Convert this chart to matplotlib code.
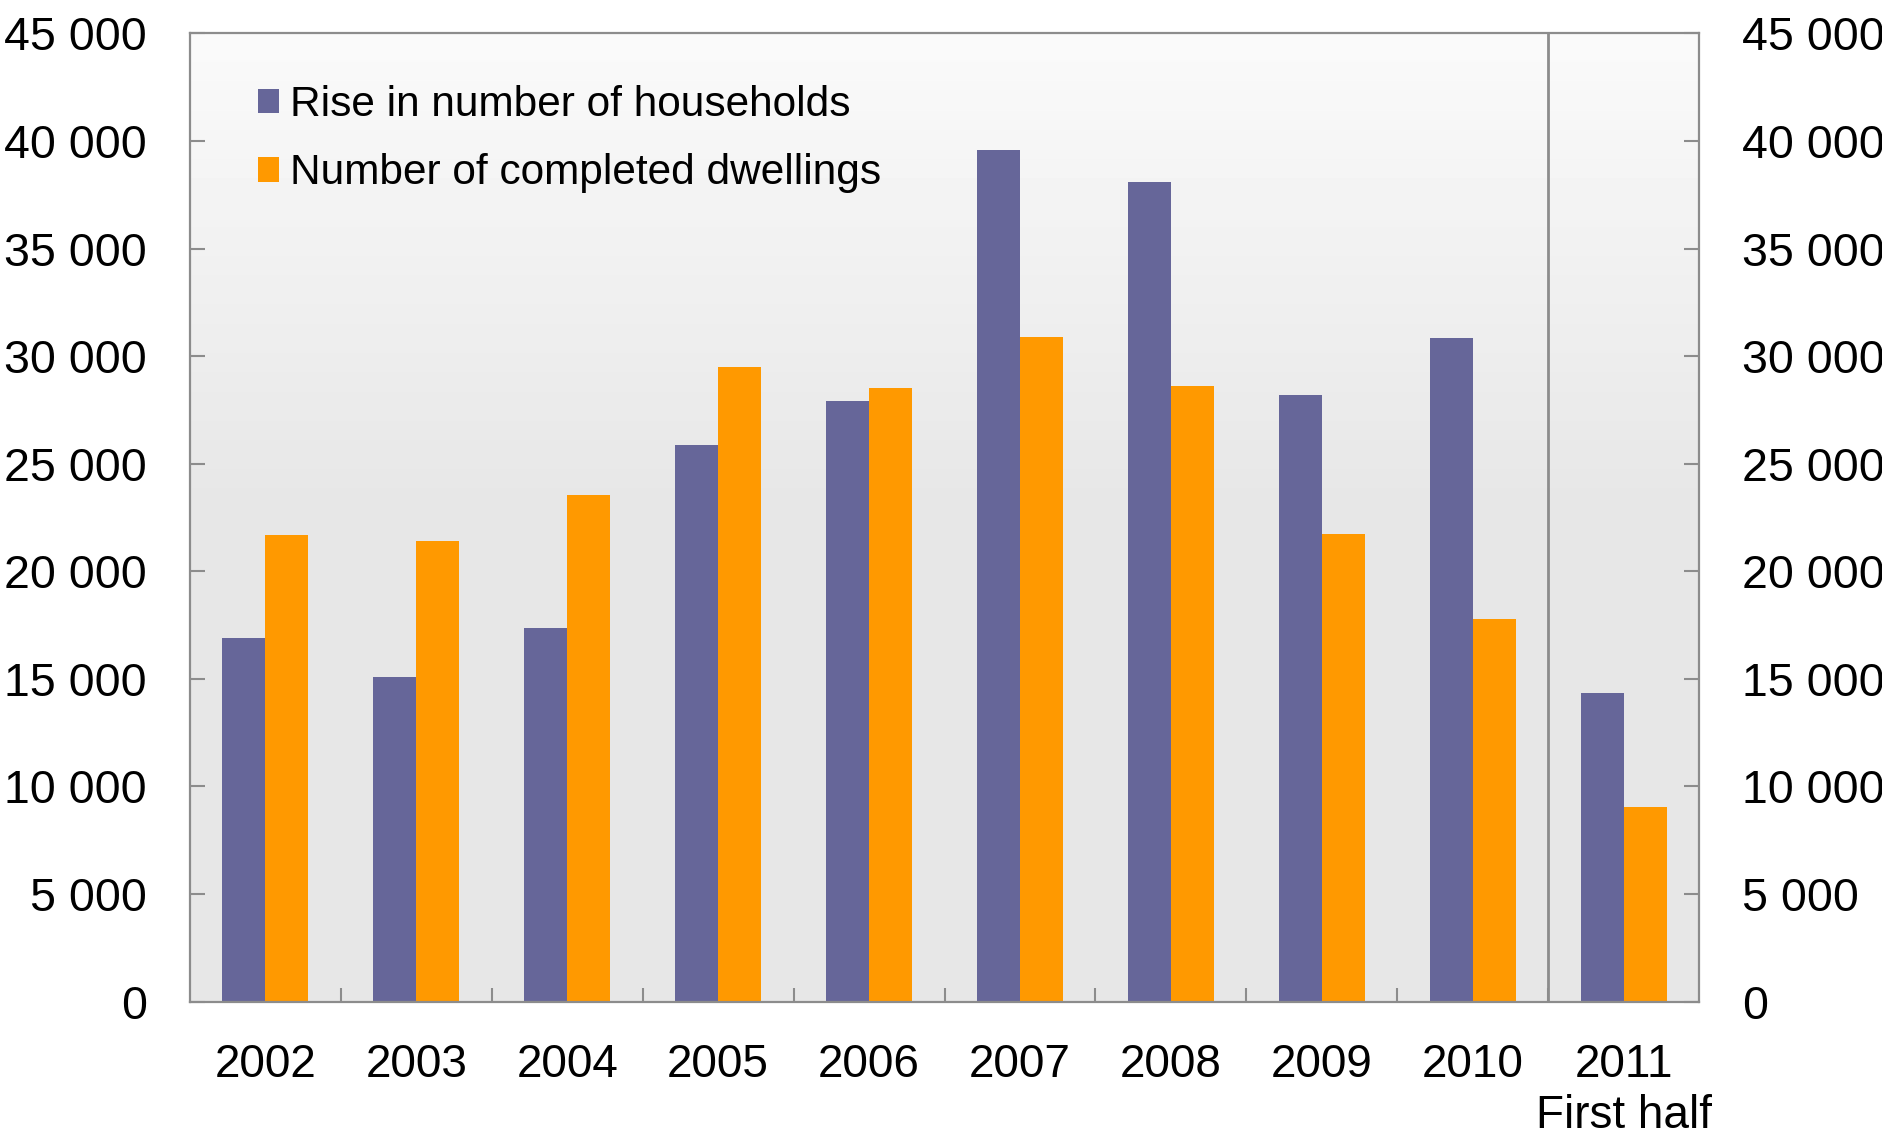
import numpy as np
import matplotlib
matplotlib.use("Agg")
import matplotlib.pyplot as plt
from matplotlib.ticker import FuncFormatter, FixedLocator

plt.rcParams['font.family'] = ['Liberation Sans', 'DejaVu Sans']

# Data
years = ['2002', '2003', '2004', '2005', '2006', '2007', '2008', '2009', '2010',
         '2011\nFirst half']
households = [16900, 15100, 17350, 25850, 27900, 39600, 38100, 28200, 30850, 14350]
dwellings = [21700, 21400, 23550, 29500, 28500, 30900, 28600, 21750, 17800, 9050]
labels = ['Rise in number of households', 'Number of completed dwellings']
yticks = np.arange(0, 45001, 5000)

purple = '#666699'
orange = '#ff9900'
grey = '#8c8c8c'

fig = plt.figure(figsize=(18.83, 11.38), dpi=100)
ax = fig.add_axes([0.1009, 0.1198, 0.8014, 0.8509])

# gradient background: light at top, flat grey below the middle
grad = np.concatenate([np.linspace(0.98, 0.903, 50), np.full(50, 0.903)])
ax.imshow(grad[:, None], cmap='gray', vmin=0, vmax=1, aspect='auto',
          extent=[0, 1, 0, 1], transform=ax.transAxes, zorder=0)

x = np.arange(len(years))
w = 0.285
ax.bar(x - w / 2, households, w, color=purple, label=labels[0], zorder=2)
ax.bar(x + w / 2, dwellings, w, color=orange, label=labels[1], zorder=2)

ax.axvline(8.5, color=grey, lw=2, zorder=3)

ax.set_xlim(-0.5, 9.5)
ax.set_ylim(0, 45000)

for s in ax.spines.values():
    s.set_color(grey)
    s.set_linewidth(1.6)
    s.set_zorder(4)

# group boundaries get the tick marks, the labels sit under the centres
ax.xaxis.set_major_locator(FixedLocator(np.arange(0.5, 9.0, 1.0)))
ax.xaxis.set_major_formatter(FuncFormatter(lambda v, p: ''))
ax.set_xticks(x, years, minor=True)
ax.tick_params(axis='x', which='major', direction='in', length=10, width=1.5,
               color=grey)
ax.tick_params(axis='x', which='minor', length=0, pad=30, labelsize=33)

ax.set_yticks(yticks)
ax.yaxis.set_major_formatter(FuncFormatter(lambda v, p: f"{int(v):,}".replace(',', ' ')))
ax.tick_params(axis='y', direction='in', length=11, width=1.5, color=grey,
               left=True, right=True, labelleft=True, labelright=True,
               labelsize=33.5, pad=31)

ax.legend(loc='upper left', bbox_to_anchor=(0.045, 0.947), frameon=False,
          fontsize=30.5, handlelength=0.5, handleheight=0.5, handletextpad=0.25,
          labelspacing=0.68, borderpad=0, borderaxespad=0)

fig.savefig('out.png', dpi=100)
